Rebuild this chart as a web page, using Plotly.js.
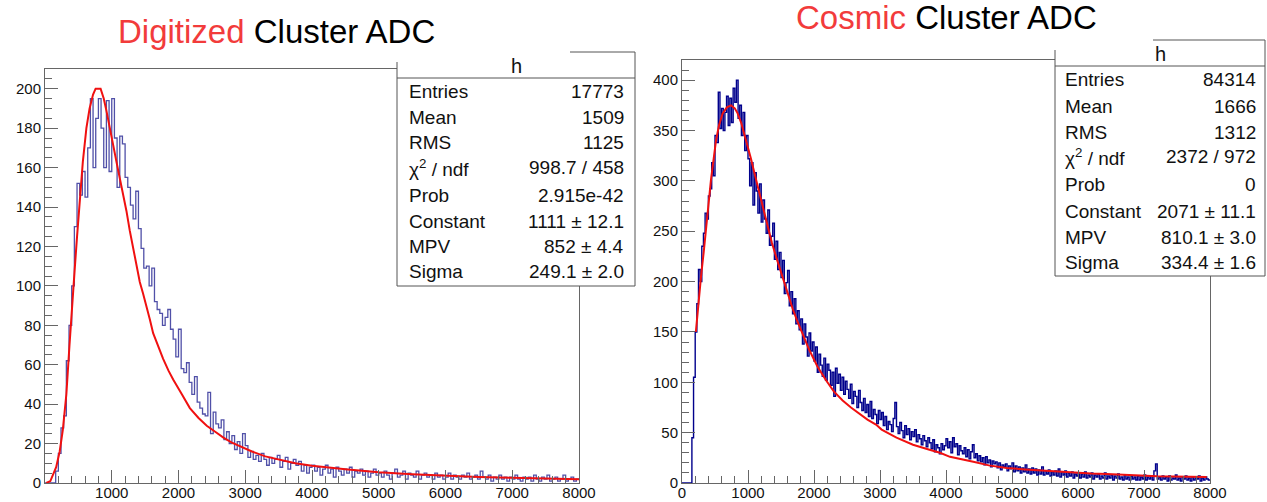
<!DOCTYPE html>
<html><head><meta charset="utf-8">
<script src="https://cdn.plot.ly/plotly-3.0.1.min.js"></script>
<style>html,body{margin:0;padding:0;background:#fff}#plot{width:1267px;height:502px}</style>
</head><body><div id="plot"></div>
<script>
const W = 1267, H = 502;

// ---------- data ----------
const leftBinWidth = 40;
const leftCounts = [
0,0,0,0,6,15,28,34,62,80,
100,130,152,146,158,145,170,195,160,185,
195,180,160,194,158,195,175,150,176,172,
155,150,141,134,148,129,119,109,110,100,
109,92,88,86,80,84,88,78,73,64,
78,58,56,61,51,45,54,41,38,35,
34,46,25,36,30,28,32,22,26,20,
24,17,21,15,25,19,13,16,12,14,
11,15,12,9,13,10,12,14,8,11,
13,7,10,12,9,11,6,9,5,8,
9,6,8,4,7,9,5,7,3,8,
6,4,7,5,8,3,6,5,7,4,
6,3,5,7,4,5,3,6,4,2,
5,7,3,4,6,2,5,4,3,6,
2,4,5,3,4,2,5,3,4,2,
3,5,2,4,3,2,4,3,5,2,
3,4,2,6,3,2,4,1,3,2,
4,2,3,1,3,2,4,2,1,3,
2,3,1,4,2,1,3,2,4,1,
2,3,1,2,4,1,2,3,1,2
];

const rightBinWidth = 25;
const rightCounts = [
0,0,0,0,0,0,45,105,150,178,
212,200,235,248,268,262,285,292,318,305,
345,338,388,352,372,350,368,384,355,382,
358,392,378,400,362,375,345,368,330,345,
322,295,318,276,308,290,268,297,259,281,
262,248,271,236,245,258,222,240,212,229,
204,221,188,199,211,176,190,168,183,158,
171,152,163,138,158,145,126,149,131,140,
121,135,110,128,117,106,124,102,118,112,
97,110,86,114,99,108,92,105,88,101,
93,84,98,79,91,86,75,92,80,72,
84,70,78,66,81,64,73,68,59,72,
63,70,57,66,53,61,58,51,64,80,
56,49,60,52,45,57,48,54,43,51,
46,53,41,48,44,38,47,42,36,45,
40,34,43,31,38,35,29,39,33,37,
44,35,41,30,45,36,39,28,37,32,
29,35,26,33,24,31,38,25,29,22,
27,21,25,18,26,20,23,16,22,19,
21,15,20,13,18,16,19,12,17,14,
20,11,17,12,16,10,15,11,18,10,
14,9,15,10,14,8,13,9,16,8,
12,9,13,7,11,8,12,7,14,6,
11,8,12,6,10,7,11,5,9,7,
10,5,9,6,11,5,8,6,10,4,
8,6,9,4,7,5,10,4,7,5,
8,3,7,5,9,4,6,3,8,4,
6,3,7,4,6,3,7,3,6,4,
8,3,6,4,7,3,12,19,4,6,
3,7,4,6,2,7,3,5,4,8,
3,5,2,6,4,7,3,5,2,6,
3,5,4,7,2,5,3,6,4,3
];

const leftFitX = [20,80,167,220,267,320,367,400,442,480,517,567,620,668,720,758,833,880,919,970,1018,1070,1119,1170,1220,1270,1320,1370,1420,1470,1520,1570,1620,1700,1770,1850,1920,2050,2170,2300,2423,2550,2673,2800,2923,3100,3300,3500,3750,4000,4250,4500,4750,5000,5500,6000,6500,7000,7500,8000];
const leftFitY = [0,1,8,16,27,45,70,88,107,125,141,163,180,190,197,200,200,195,189,181,172,163,155,146,138,128,119,110,102,96,90,83,76,69,63,57,52.5,45,38,33,29,26,23,20.5,18.5,16,13.5,12,10,8.8,7.8,7,6.2,5.5,4.5,3.7,3.1,2.6,2.2,1.9];

const rightFitX = [210,250,288,330,364,400,439,480,515,560,616,680,742,800,843,900,944,1000,1045,1100,1172,1235,1298,1360,1424,1490,1551,1615,1677,1740,1803,1865,1929,2050,2182,2300,2434,2560,2687,2810,2939,3025,3250,3500,3750,3909,4060,4250,4414,4650,4919,5200,5424,5700,5929,6200,6434,6700,6939,7200,7444,7700,7949];
const rightFitY = [150,180,205,230,254,278,301,322,340,355,367,373,375,372,367,357,347,334,322,307,288,271,254,239,225,211,198,185,173,162,152,142,132,116,102,91,82,75,69,63,58,53,45,38,33,30,26,23,21,17.5,15,13.5,12.5,11,10,9.5,9,8,7.2,6.8,6.5,6.2,6];

const xTickVals = [0,1000,2000,3000,4000,5000,6000,7000,8000];
const leftXTickVals = [1000,2000,3000,4000,5000,6000,7000,8000];
const leftYTickVals = [0,20,40,60,80,100,120,140,160,180,200];
const rightYTickVals = [0,50,100,150,200,250,300,350,400];

const leftTitleRed = 'Digitized', rightTitleRed = 'Cosmic', titleRest = ' Cluster ADC';
const statsLabels = ['Entries','Mean','RMS','χ<sup>2</sup> / ndf','Prob','Constant','MPV','Sigma'];
const leftStatsValues = ['17773','1509','1125','998.7 / 458','2.915e-42','1111 ± 12.1','852 ± 4.4','249.1 ± 2.0'];
const rightStatsValues = ['84314','1666','1312','2372 / 972','0','2071 ± 11.1','810.1 ± 3.0','334.4 ± 1.6'];

// ---------- helpers ----------
const px = v => v / W;
const py = v => 1 - v / H;
function steps(counts, w) {
  const x = [], y = [];
  counts.forEach((c, i) => { x.push(i * w); y.push(c); });
  x.push(counts.length * w); y.push(counts[counts.length - 1]);
  return {x, y};
}
const L = steps(leftCounts, leftBinWidth);
const R = steps(rightCounts, rightBinWidth);

const SANS = '"Liberation Sans", Arial, sans-serif';
const axisCol = '#666666';

const traces = [
  {x: L.x, y: L.y, xaxis: 'x', yaxis: 'y', mode: 'lines', line: {shape: 'hv', color: '#5050a8', width: 1.3}, hoverinfo: 'skip'},
  {x: leftFitX, y: leftFitY, xaxis: 'x', yaxis: 'y', mode: 'lines', line: {color: '#f01010', width: 2}, hoverinfo: 'skip'},
  {x: R.x, y: R.y, xaxis: 'x2', yaxis: 'y2', mode: 'lines', line: {shape: 'hv', color: '#00008c', width: 1.4}, hoverinfo: 'skip'},
  {x: rightFitX, y: rightFitY, xaxis: 'x2', yaxis: 'y2', mode: 'lines', line: {color: '#f01010', width: 2}, hoverinfo: 'skip'}
];

function xAxis(domain, vals, anchor) {
  return {
    domain: domain, range: [0, 8000], anchor: anchor, showgrid: false, zeroline: false,
    showline: true, linecolor: axisCol, linewidth: 1, mirror: true,
    ticks: 'inside', ticklen: 13, tickcolor: axisCol, tickwidth: 1,
    tickmode: 'array', tickvals: vals, ticktext: vals.map(String), ticklabelstandoff: -4,
    minor: {ticks: 'inside', ticklen: 7, tickcolor: axisCol, tickmode: 'linear', tick0: 0, dtick: 200, showgrid: false},
    tickfont: {family: SANS, size: 15, color: '#111'}, fixedrange: true
  };
}
function yAxis(domain, range, vals, minorStep, anchor) {
  return {
    domain: domain, range: range, anchor: anchor, showgrid: false, zeroline: false,
    showline: true, linecolor: axisCol, linewidth: 1, mirror: true,
    ticks: 'inside', ticklen: 13, tickcolor: axisCol, tickwidth: 1,
    tickmode: 'array', tickvals: vals, ticktext: vals.map(String),
    minor: {ticks: 'inside', ticklen: 7, tickcolor: axisCol, tickmode: 'linear', tick0: 0, dtick: minorStep, showgrid: false},
    tickfont: {family: SANS, size: 15, color: '#111'}, fixedrange: true
  };
}

const shapes = [];
const annotations = [];
function line(x0, y0, x1, y1) {
  shapes.push({type: 'line', xref: 'paper', yref: 'paper', x0: px(x0), y0: py(y0), x1: px(x1), y1: py(y1),
    line: {color: '#555', width: 1}, layer: 'above'});
}
function statsBox(left, right, top, partialTopStart, leftTop, divider, bottom, rows, values, labelX, valueX) {
  shapes.push({type: 'rect', xref: 'paper', yref: 'paper', x0: px(left), x1: px(right), y0: py(bottom), y1: py(top),
    fillcolor: '#ffffff', line: {width: 0}, layer: 'above'});
  line(partialTopStart, top, right, top);
  line(right, top, right, bottom);
  line(left, leftTop, left, bottom);
  line(left, bottom, right, bottom);
  line(left, divider, right, divider);
  annotations.push({xref: 'paper', yref: 'paper', x: px((left + right) / 2), y: py((top + divider) / 2 + 1),
    text: 'h', showarrow: false, xanchor: 'center', yanchor: 'middle', font: {family: SANS, size: 20, color: '#111'}});
  rows.forEach((ry, i) => {
    annotations.push({xref: 'paper', yref: 'paper', x: px(labelX), y: py(ry), text: statsLabels[i], showarrow: false,
      xanchor: 'left', yanchor: 'middle', font: {family: SANS, size: 19, color: '#111'}});
    annotations.push({xref: 'paper', yref: 'paper', x: px(valueX), y: py(ry), text: values[i], showarrow: false,
      xanchor: 'right', yanchor: 'middle', font: {family: SANS, size: 19, color: '#111'}});
  });
}

statsBox(397, 635, 52, 570, 62, 78, 286, [91,117,143,168,195,221,246,271], leftStatsValues, 407, 626);
statsBox(1055, 1265, 40, 1153, 50, 66, 276, [80,106,132,157,184,211,237,262], rightStatsValues, 1063, 1258);

annotations.push({xref: 'paper', yref: 'paper', x: px(276), y: py(32), showarrow: false, xanchor: 'center', yanchor: 'middle',
  text: '<span style="color:#f23b3b">' + leftTitleRed + '</span>' + titleRest, font: {family: SANS, size: 33, color: '#000'}});
annotations.push({xref: 'paper', yref: 'paper', x: px(946), y: py(18), showarrow: false, xanchor: 'center', yanchor: 'middle',
  text: '<span style="color:#f23b3b">' + rightTitleRed + '</span>' + titleRest, font: {family: SANS, size: 33, color: '#000'}});

const layout = {
  width: W, height: H, margin: {l: 0, r: 0, t: 0, b: 0}, showlegend: false,
  paper_bgcolor: '#fff', plot_bgcolor: '#fff',
  xaxis: xAxis([px(45), px(579)], leftXTickVals, 'y'),
  yaxis: yAxis([py(483), py(69)], [0, 210], leftYTickVals, 5, 'x'),
  xaxis2: xAxis([px(682), px(1210)], xTickVals, 'y2'),
  yaxis2: yAxis([py(483), py(60)], [0, 420], rightYTickVals, 10, 'x2'),
  shapes: shapes, annotations: annotations
};

Plotly.newPlot('plot', traces, layout, {staticPlot: true, displayModeBar: false});
</script></body></html>
